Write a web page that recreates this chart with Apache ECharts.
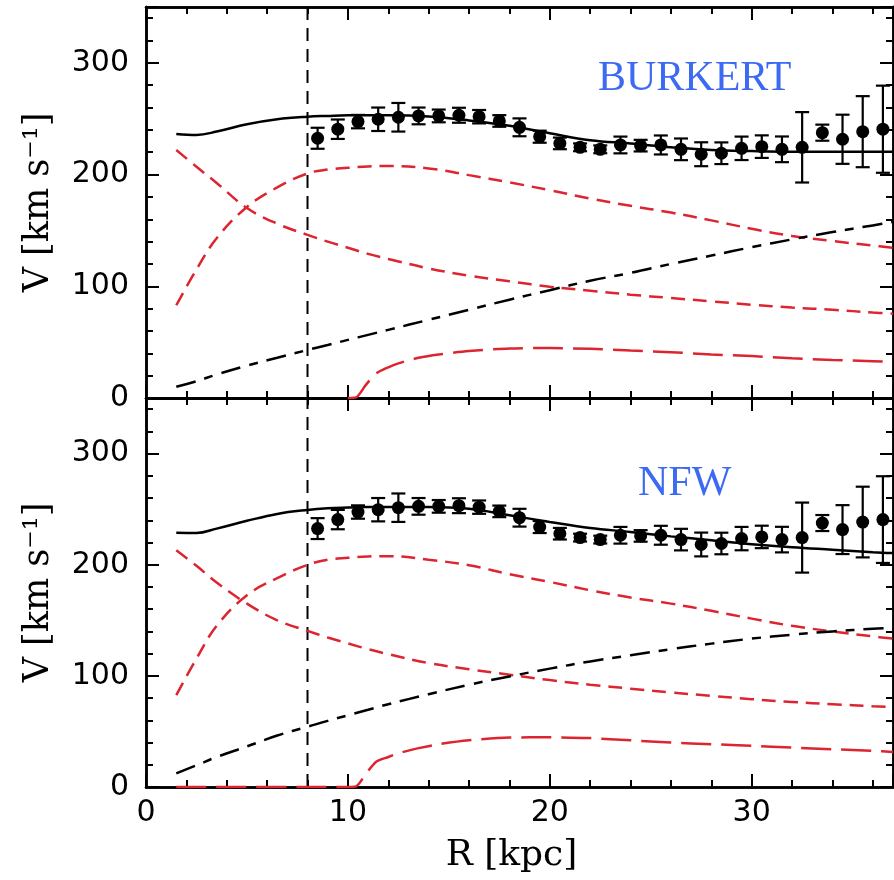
<!DOCTYPE html>
<html>
<head>
<meta charset="utf-8">
<script src="https://cdn.jsdelivr.net/npm/echarts@6/dist/echarts.min.js"></script>
<style>
  html, body { margin: 0; padding: 0; background: #fff; }
  #main { width: 894px; height: 880px; }
</style>
</head>
<body>
<div id="main"></div>
<script>
// observed rotation curve, same points in both panels
var obsR = [8.5, 9.5, 10.5, 11.5, 12.5, 13.5, 14.5, 15.5, 16.5, 17.5, 18.5, 19.5, 20.5, 21.5, 22.5,
            23.5, 24.5, 25.5, 26.5, 27.5, 28.5, 29.5, 30.5, 31.5, 32.5, 33.5, 34.5, 35.5, 36.5];
var obsV = [232.5, 240.6, 247.4, 249.5, 251.3, 252.5, 252.5, 253.1, 251.8, 248, 242.3, 233.9, 227.9, 224.4, 222.6,
            226.5, 225.9, 226.5, 222.6, 218.2, 219.1, 223.5, 225, 222.6, 224.4, 237.5, 231.6, 238.4, 240.6];
var obsErr = [9.4, 8.7, 6, 10.5, 12.8, 7.5, 5.7, 6.7, 6, 5.2, 8, 5.4, 5.2, 3.5, 3.5,
              7.5, 5.2, 8.5, 9.7, 10.7, 9.7, 10.5, 10.1, 11.5, 31.5, 7.2, 22, 31.8, 39];

// model curves are read at these radii
var modelR = [1.5, 2.5, 3.5, 5, 6.5, 8, 9, 10, 11, 12, 14, 16, 18, 20, 22, 24, 26, 28, 30, 32, 34, 36, 37];

// BURKERT panel
var burTotal  = [236.4, 235.5, 238.5, 245, 249.5, 251.8, 252.5, 253, 253, 253, 252, 248.5, 243.7, 237, 230.8, 227.8, 224.5, 222, 221, 220.5, 220.5, 220.5, 220.5];
var burDisk   = [83, 115, 143, 171, 188.5, 201, 204.5, 206, 207.3, 207.7, 205.5, 199.5, 193, 186, 178.5, 172, 166, 159, 151.5, 145, 140.5, 136.5, 134.5];
var burBulge  = [222, 207, 192.5, 170, 156, 146, 140, 134.5, 129, 124.5, 116, 109.5, 104.5, 99.6, 96, 92.5, 89.5, 86.5, 83.5, 81, 79, 76.5, 75.5];
var burHalo   = [10, 15, 21, 29, 36, 43, 47.5, 52, 56.5, 61, 70, 79, 88, 96.5, 105, 112, 120, 127.5, 135, 142, 148.5, 154.5, 157.5];
var burGasR   = [10, 10.4, 10.9, 11.4, 12, 12.5, 13.5, 14.5, 16, 18, 20, 22, 24, 26, 28, 30, 32, 34, 36, 37];
var burGas    = [0, 0.5, 12, 22, 27.5, 31, 36, 39, 42, 44.3, 44.7, 44, 42.5, 41, 39, 37.5, 35.5, 34, 33, 32.3];

// NFW panel
var nfwTotal  = [228.7, 228.5, 232.5, 239.5, 245.7, 249.3, 250.8, 251.5, 252, 252, 252, 250.3, 244.5, 238.5, 233, 229.5, 225.5, 222, 218.5, 215.7, 213.5, 211.3, 210.5];
var nfwDisk   = [82.7, 115.5, 145, 172.5, 188, 199.8, 204.5, 206.2, 207.4, 207.7, 204.5, 199.5, 191.5, 184.5, 177, 170.5, 165, 158.5, 151.5, 145, 140, 135.5, 133.5];
var nfwBulge  = [213, 199, 184, 165, 150, 140.5, 134.5, 129.2, 124, 119.5, 111.5, 106, 101, 96.2, 92, 88.5, 85, 82, 79, 76.5, 74.5, 72.7, 72];
var nfwHalo   = [12.3, 19.5, 27, 36.5, 46.3, 54.2, 59.5, 64.5, 69.5, 74.5, 83.5, 92, 99.5, 106.5, 113, 118.5, 124, 129, 133.5, 137, 140, 142.3, 143];
var nfwGasR   = [1.5, 10, 10.4, 10.9, 11.4, 12, 12.5, 13.5, 14.5, 16, 18, 20, 22, 24, 26, 28, 30, 32, 34, 36, 37];
var nfwGas    = [0, 0, 0.5, 12, 22.8, 27, 30.3, 35, 38.5, 42, 44.5, 44.7, 44, 42, 40, 38.5, 37, 35.5, 34, 32.5, 31.5];

var rSun = 8;
var xMax = 37, vMax = 350;
var panelNames = ['BURKERT', 'NFW'];

var RED = '#dc2530';
var BLUE = '#3d6af2';

function axis(kind, grid, pos, step, len, labels, extra) {
  var unit = kind === 'x' ? 10 : 100;
  var a = {
    type: 'value',
    gridIndex: grid,
    position: pos,
    min: 0,
    max: kind === 'x' ? xMax : vMax,
    interval: step,
    axisLine: {show: true, onZero: false, lineStyle: {color: '#000', width: 2.5}},
    axisTick: {show: true, inside: true, length: len, lineStyle: {color: '#000', width: 2}},
    axisLabel: {
      show: labels,
      color: '#000',
      fontFamily: 'DejaVu Sans',
      fontSize: 30,
      margin: kind === 'x' ? 11 : 17,
      formatter: function (v) { return v % unit === 0 ? v : ''; }
    },
    splitLine: {show: false}
  };
  return Object.assign(a, extra || {});
}

// order matters: major bottom, major top, minor bottom, minor top
function xAxes(grid, labels, extra) {
  return [
    axis('x', grid, 'bottom', 10, 13, labels, extra),
    axis('x', grid, 'top', 10, 13, false),
    axis('x', grid, 'bottom', 2, 7, false),
    axis('x', grid, 'top', 2, 7, false)
  ];
}
function yAxes(grid, extra) {
  return [
    axis('y', grid, 'left', 100, 13, true, extra),
    axis('y', grid, 'right', 100, 13, false),
    axis('y', grid, 'left', 20, 7, false),
    axis('y', grid, 'right', 20, 7, false)
  ];
}

var yName = {
  name: 'V [km s\u207b\u00b9]',
  nameLocation: 'middle',
  nameGap: 90,
  nameTextStyle: {color: '#000', fontFamily: 'DejaVu Serif', fontSize: 35}
};
var xName = {
  name: 'R [kpc]',
  nameLocation: 'middle',
  nameGap: 51,
  nameTextStyle: {color: '#000', fontFamily: 'DejaVu Serif', fontSize: 36, padding: [0, 16, 0, 0]}
};

function curve(r, v, p, color, dash, smooth) {
  return {
    type: 'line',
    xAxisIndex: p * 4,
    yAxisIndex: p * 4,
    data: r.map(function (x, i) { return [x, v[i]]; }),
    showSymbol: false,
    symbol: 'none',
    smooth: smooth == null ? 0.4 : smooth,
    lineStyle: {color: color, width: 2.5, type: dash || 'solid'},
    z: 3
  };
}

function errorBars(p) {
  return {
    type: 'custom',
    xAxisIndex: p * 4,
    yAxisIndex: p * 4,
    data: obsR.map(function (r, i) { return [r, obsV[i] - obsErr[i], obsV[i] + obsErr[i]]; }),
    encode: {x: 0, y: [1, 2]},
    renderItem: function (params, api) {
      var lo = api.coord([api.value(0), api.value(1)]);
      var hi = api.coord([api.value(0), api.value(2)]);
      var w = 7;
      var st = {stroke: '#000', lineWidth: 2.2};
      return {
        type: 'group',
        children: [
          {type: 'line', shape: {x1: lo[0], y1: lo[1], x2: hi[0], y2: hi[1]}, style: st},
          {type: 'line', shape: {x1: lo[0] - w, y1: lo[1], x2: lo[0] + w, y2: lo[1]}, style: st},
          {type: 'line', shape: {x1: hi[0] - w, y1: hi[1], x2: hi[0] + w, y2: hi[1]}, style: st}
        ]
      };
    },
    z: 5
  };
}

function points(p) {
  return {
    type: 'scatter',
    xAxisIndex: p * 4,
    yAxisIndex: p * 4,
    data: obsR.map(function (r, i) { return [r, obsV[i]]; }),
    symbol: 'circle',
    symbolSize: 13,
    itemStyle: {color: '#000', opacity: 1},
    z: 6
  };
}

function sunLine(p) {
  return {
    type: 'line',
    xAxisIndex: p * 4,
    yAxisIndex: p * 4,
    data: [[rSun, 0], [rSun, vMax]],
    symbol: 'none',
    lineStyle: {color: '#000', width: 2, type: [13, 8]},
    z: 2
  };
}

var shortDash = [14, 8];
var longDash = [30, 10];
var dashDot = [20, 9, 9, 9];

var titleStyle = {color: BLUE, fontFamily: 'Liberation Serif', fontSize: 42, fontWeight: 'normal'};

var option = {
  backgroundColor: '#fff',
  animation: false,
  title: [
    {text: panelNames[0], left: 598, top: 58, padding: 0, textStyle: titleStyle},
    {text: panelNames[1], left: 638, top: 463, padding: 0, textStyle: titleStyle}
  ],
  grid: [
    {left: 146, right: 1, top: 7, height: 391, containLabel: false, outerBoundsMode: 'none'},
    {left: 146, right: 1, top: 398, height: 389, containLabel: false, outerBoundsMode: 'none'}
  ],
  xAxis: xAxes(0, false).concat(xAxes(1, true, xName)),
  yAxis: yAxes(0, yName).concat(yAxes(1, yName)),
  series: [
    sunLine(0),
    curve(modelR, burDisk, 0, RED, shortDash),
    curve(modelR, burBulge, 0, RED, shortDash),
    curve(modelR, burHalo, 0, '#000', dashDot),
    curve(burGasR, burGas, 0, RED, longDash, 0.25),
    curve(modelR, burTotal, 0, '#000', 'solid'),
    errorBars(0),
    points(0),

    sunLine(1),
    curve(modelR, nfwDisk, 1, RED, shortDash),
    curve(modelR, nfwBulge, 1, RED, shortDash),
    curve(modelR, nfwHalo, 1, '#000', dashDot),
    curve(nfwGasR, nfwGas, 1, RED, longDash, 0.25),
    curve(modelR, nfwTotal, 1, '#000', 'solid'),
    errorBars(1),
    points(1)
  ]
};

var chart = echarts.init(document.getElementById('main'), null, {renderer: 'canvas'});
chart.setOption(option);
</script>
</body>
</html>
